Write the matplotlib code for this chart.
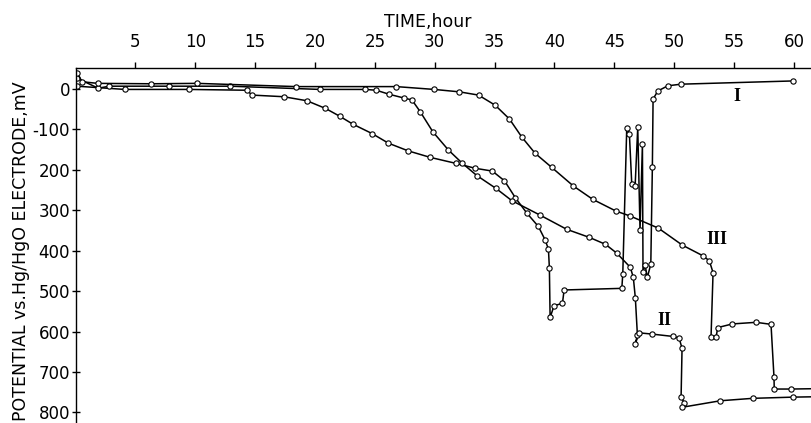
import numpy as np
from matplotlib import pyplot as plt

# Curve I: time (h) and potential (mV)
t_1 = [0.13, 4.11, 9.45, 14.32, 14.74, 17.38, 19.33, 20.88, 22.05, 23.17, 24.76, 26.14,
       27.79, 29.62, 31.79, 33.38, 34.82, 35.83, 36.74, 37.70, 38.66, 39.22, 39.50, 39.58,
       39.64, 39.97, 40.67, 40.81, 45.63, 45.71, 46.04, 46.26, 46.46, 46.74, 46.96, 47.15,
       47.35, 47.40, 47.57, 47.76, 48.05, 48.18, 48.24, 48.63, 49.47, 50.58, 59.95]
e_1 = [-7, 1, 1, 3, 15, 19, 29, 48, 67, 87, 110, 134,
       153, 169, 184, 196, 203, 227, 269, 307, 340, 373, 396, 443,
       565, 536, 530, 497, 493, 457, 97, 110, 235, 240, 95, 349,
       137, 452, 435, 466, 433, 194, 25, 5, -8, -12, -20]

# Curve II
t_2 = [0.13, 1.89, 2.83, 7.78, 12.87, 20.44, 24.20, 25.12, 26.20, 27.40, 28.10, 28.79,
       29.85, 31.15, 32.32, 33.52, 35.13, 36.44, 38.81, 41.03, 42.92, 44.26, 45.21, 46.34,
       46.59, 46.76, 46.93, 46.76, 47.07, 48.13, 49.93, 50.41, 50.66, 50.58, 50.85, 50.68,
       53.86, 56.56, 59.95, 62.0]
e_2 = [-27, -2, -7, -7, -7, 1, 1, 3, 13, 22, 27, 56,
       106, 151, 184, 214, 246, 276, 312, 347, 367, 384, 406, 441,
       466, 517, 608, 630, 603, 606, 612, 616, 641, 761, 777, 787,
       771, 765, 762, 761]

# Curve III
t_3 = [0.13, 0.55, 1.85, 6.31, 10.15, 18.44, 26.79, 29.96, 32.07, 33.66, 35.05, 36.24,
       37.28, 38.39, 39.78, 41.59, 43.21, 45.15, 46.32, 48.68, 50.68, 52.44, 52.94, 53.25,
       53.08, 53.50, 53.64, 54.86, 56.84, 58.09, 58.34, 58.36, 59.78, 62.0]
e_3 = [-40, -18, -14, -13, -14, -6, -6, 1, 7, 15, 40, 74,
       119, 159, 194, 240, 273, 302, 314, 344, 386, 413, 425, 454,
       614, 614, 590, 581, 577, 582, 713, 742, 742, 741]

x_ticks = [5, 10, 15, 20, 25, 30, 35, 40, 45, 50, 55, 60]
y_ticks = [0, 100, 200, 300, 400, 500, 600, 700, 800]
y_tick_labels = ["0", "-100", "200", "300", "400", "500", "600", "700", "800"]

# Curve names and where they sit (time, mV)
curve_names = ["I", "II", "III"]
name_t = [55.25, 49.18, 53.56]
name_e = [19, 573, 373]

plt.rcParams['font.family'] = ['DejaVu Sans']

fig = plt.figure(figsize=(8.11, 4.23), dpi=100)
ax = fig.add_axes([75.5 / 811, 0.0, 1 - 75.5 / 811, (423 - 68) / 423])

line_kw = dict(color="black", lw=1.1, marker="o", ms=3.8, mfc="white", mec="black", mew=0.8,
               clip_on=True)
for t, e in [(t_1, e_1), (t_2, e_2), (t_3, e_3)]:
    ax.plot(t, e, **line_kw)

for name, t, e in zip(curve_names, name_t, name_e):
    ax.text(t, e, name, ha="center", va="center", fontsize=13, fontweight="bold",
            family=["Liberation Serif", "DejaVu Serif"])

# Axes: time on top, potential increasing downward
ax.set_xlim(0, 61.43)
ax.set_ylim(826, -52)

ax.spines["right"].set_visible(False)
ax.spines["bottom"].set_visible(False)
ax.spines["top"].set_linewidth(1.0)
ax.spines["left"].set_linewidth(1.0)

ax.xaxis.tick_top()
ax.set_xticks(x_ticks)
ax.set_xticklabels([str(v) for v in x_ticks])
ax.tick_params(axis="x", direction="out", length=4, width=1.0, pad=8.5, labelsize=12)

ax.set_yticks(y_ticks)
ax.set_yticklabels(y_tick_labels)
ax.tick_params(axis="y", direction="inout", length=6, width=1.0, pad=1, labelsize=12)

ax.set_xlabel("TIME,hour", fontsize=12.5)
ax.xaxis.set_label_position("top")
ax.xaxis.label.set_va("baseline")
ax.xaxis.set_label_coords((428 - 75.5) / 735.5, (423 - 27) / 355)

ax.set_ylabel("POTENTIAL vs.Hg/HgO ELECTRODE,mV", fontsize=12.5)
ax.yaxis.label.set_va("baseline")
ax.yaxis.set_label_coords((26 - 75.5) / 735.5, (423 - 251) / 355)

fig.savefig("out.png", dpi=100)
